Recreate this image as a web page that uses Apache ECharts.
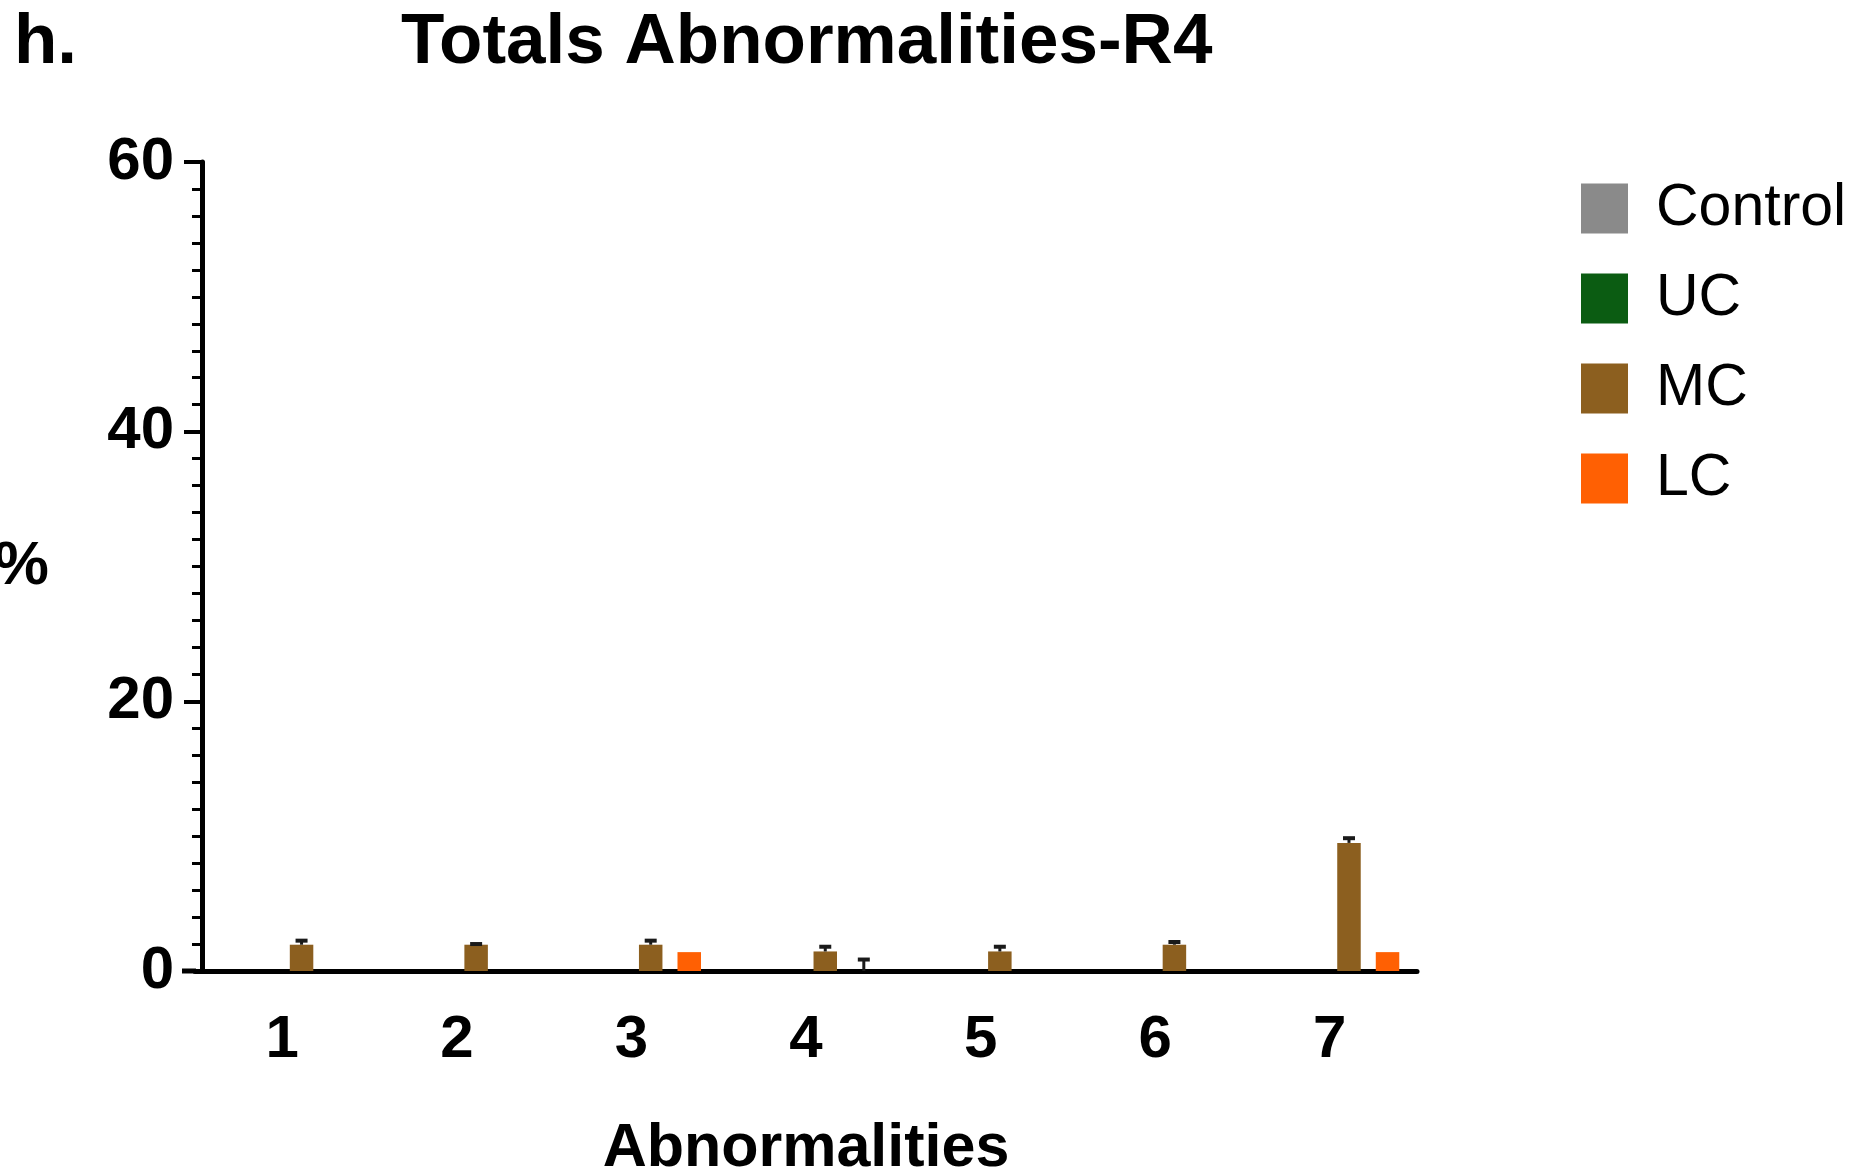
<!DOCTYPE html>
<html>
<head>
<meta charset="utf-8">
<script src="https://cdn.jsdelivr.net/npm/echarts@6/dist/echarts.min.js"></script>
<style>
html,body{margin:0;padding:0;background:#fff;}
#chart{width:1860px;height:1173px;}
</style>
</head>
<body>
<div id="chart"></div>
<script>
const categories = ['1','2','3','4','5','6','7'];
const seriesNames = ['Control','UC','MC','LC'];
const controlValues = [0,0,0,0,0,0,0];
const ucValues = [0,0,0,0,0,0,0];
const mcValues = [1.95,1.95,1.95,1.45,1.45,1.95,9.5];
const lcValues = [0,0,1.4,0,0,0,1.4];
const controlErr = [0,0,0,0,0,0,0];
const ucErr = [0,0,0,0,0,0,0];
const mcErr = [0.3,0.05,0.3,0.35,0.35,0.2,0.35];
const lcErr = [0,0,0,0.85,0,0,0];
const yTicks = [0,20,40,60];

const colors = ['#8a8a8a','#0b5c12','#8c5f1f','#ff6003'];
const values = [controlValues, ucValues, mcValues, lcValues];
const errs = [controlErr, ucErr, mcErr, lcErr];

const BAR_W = 23.5;
const BAR_GAP = 0.64;
const FONT = '"Liberation Sans", Arial, sans-serif';

const chart = echarts.init(document.getElementById('chart'));

const barSeries = seriesNames.map((name, i) => ({
  name: name,
  type: 'bar',
  data: values[i],
  barWidth: BAR_W,
  barGap: (BAR_GAP*100) + '%',
  itemStyle: {color: colors[i]},
  z: 2
}));

const errSeries = seriesNames.map((name, i) => ({
  name: name,
  type: 'custom',
  z: 3,
  data: categories.map((c, k) => [k, values[i][k], errs[i][k]]),
  renderItem: function (params, api) {
    const k = api.value(0), v = api.value(1), e = api.value(2);
    if (!e) return null;
    const off = (i - 1.5) * BAR_W * (1 + BAR_GAP);
    const p0 = api.coord([k, v]);
    const p1 = api.coord([k, v + e]);
    const x = p0[0] + off;
    const capW = 6;
    return {
      type: 'group',
      children: [
        {type:'line', shape:{x1:x, y1:p0[1], x2:x, y2:p1[1]}, style:{stroke:'#1a1a1a', lineWidth:3}},
        {type:'line', shape:{x1:x-capW, y1:p1[1], x2:x+capW, y2:p1[1]}, style:{stroke:'#1a1a1a', lineWidth:4}}
      ]
    };
  }
}));

const titleStyle = {fontFamily:FONT, fontWeight:'bold', fontSize:71, color:'#000'};

const option = {
  animation: false,
  backgroundColor: '#fff',
  color: colors,
  title: [
    {text:'h.', left:14, top:8, padding:0, textStyle:titleStyle},
    {text:'Totals Abnormalities-R4', left:401, top:8, padding:0, textStyle:titleStyle}
  ],
  legend: {
    orient: 'vertical',
    left: 1581,
    top: 179,
    padding: 0,
    itemWidth: 47,
    itemHeight: 50,
    itemGap: 31,
    icon: 'rect',
    data: seriesNames,
    textStyle: {fontFamily:FONT, fontSize:59, color:'#000', padding:[0,0,0,23]}
  },
  grid: {left:195, right:443, top:162, bottom:202, containLabel:false, outerBoundsMode:'none'},
  xAxis: {
    type: 'category',
    data: categories,
    name: 'Abnormalities',
    nameLocation: 'middle',
    nameGap: 148,
    nameTextStyle: {fontFamily:FONT, fontWeight:'bold', fontSize:61, color:'#000'},
    axisLine: {lineStyle:{color:'#000', width:5}},
    axisTick: {alignWithLabel:true, length:24, lineStyle:{color:'#000', width:5}},
    axisLabel: {fontFamily:FONT, fontWeight:'bold', fontSize:60, color:'#000', margin:39}
  },
  yAxis: {
    type: 'value',
    min: 0, max: 60, interval: 20,
    offset: -7,
    name: '%',
    nameLocation: 'middle',
    nameRotate: 0,
    nameGap: 153,
    nameTextStyle: {fontFamily:FONT, fontWeight:'bold', fontSize:62, color:'#000', padding:[22,0,0,0]},
    splitLine: {show:false},
    axisLine: {show:true, lineStyle:{color:'#000', width:5}},
    axisTick: {show:true, length:18, lineStyle:{color:'#000', width:4}},
    minorTick: {show:true, splitNumber:10, length:10, lineStyle:{color:'#000', width:3}},
    axisLabel: {fontFamily:FONT, fontWeight:'bold', fontSize:60, color:'#000', margin:28,
      formatter: function(v){ return yTicks.indexOf(v) >= 0 ? String(v) : ''; }}
  },
  series: barSeries.concat(errSeries)
};

chart.setOption(option);

// extend the x-axis baseline slightly to the left of the y axis (GraphPad style)
const y0 = chart.convertToPixel({yAxisIndex:0}, 0);
const bandLeft = chart.convertToPixel({xAxisIndex:0}, 0) - chart.getModel().getComponent('xAxis',0).axis.getBandWidth()/2;
chart.setOption({
  graphic: [{
    type:'line', z:10,
    shape:{x1:bandLeft-13, y1:y0, x2:bandLeft+1, y2:y0},
    style:{stroke:'#000', lineWidth:5}
  }]
});
</script>
</body>
</html>
